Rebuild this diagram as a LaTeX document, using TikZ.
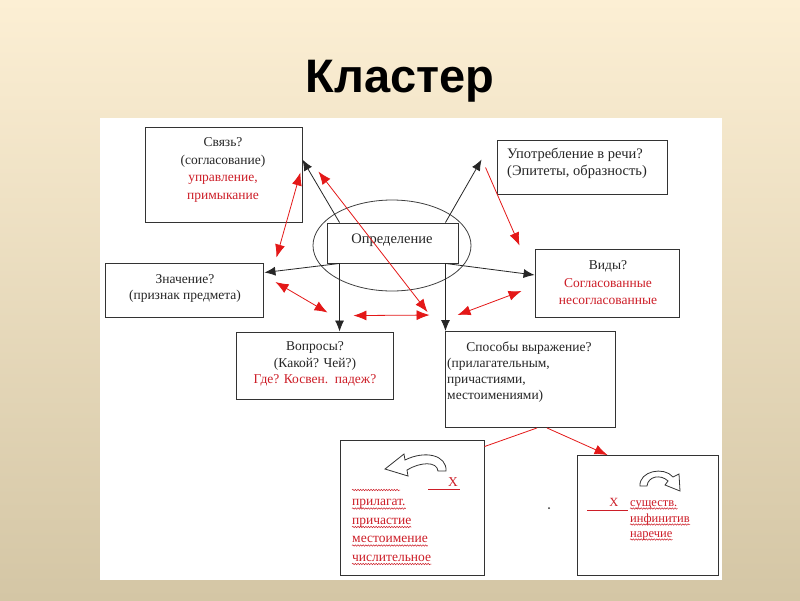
\documentclass[tikz,border=0pt]{standalone}
\usepackage{fontspec}
\setmainfont{Liberation Serif}
\newfontfamily\titlefont{Liberation Sans}
\usetikzlibrary{arrows.meta,calc,decorations.pathmorphing,shapes.geometric}
\definecolor{bgtop}{RGB}{252,239,212}
\definecolor{bgbot}{RGB}{212,198,165}
\definecolor{rtext}{RGB}{205,30,40}
\definecolor{rline}{RGB}{228,24,24}
\begin{document}
\begin{tikzpicture}[x=1pt,y=-1pt,
  box/.style n args={2}{draw=black!80, line width=0.9pt, minimum width=#1pt, minimum height=#2pt, inner sep=0pt},
  txt/.style={font=\fontsize{13.5}{17.5}\selectfont, inner sep=0pt, align=center, text=black!85},
  rword/.style={font=\fontsize{13.5}{16}\selectfont, inner sep=0pt, text=rtext},
  sword/.style={font=\fontsize{12.5}{15}\selectfont, inner sep=0pt, text=rtext},
  blk/.style={draw=black!85, line width=0.8pt, -{Latex[length=11pt,width=9pt]}},
  rdbl/.style={draw=rline, line width=0.8pt, {Latex[length=13pt,width=10pt]}-{Latex[length=13pt,width=10pt]}},
  rone/.style={draw=rline, line width=0.8pt, -{Latex[length=13pt,width=10pt]}},
  wavy/.style={draw=rtext, line width=0.5pt, decorate, decoration={snake, amplitude=0.7pt, segment length=2.6pt}},
  glyph/.style={draw=black!80, line width=0.8pt, fill=white}
]
\shade[top color=bgtop, bottom color=bgbot] (0,0) rectangle (800,600);
\useasboundingbox (0,0) rectangle (800,600);
\fill[white] (100,118) rectangle (722,580);

\node[font=\titlefont\bfseries\fontsize{47}{50}\selectfont, anchor=base, inner sep=0pt] (title) at (400,92) {Кластер};

% boxes
\node[ellipse, draw=black!75, line width=0.8pt, minimum width=158pt, minimum height=91pt, inner sep=0pt] (oval) at (392,245.5) {};
\node[box={157}{95}] (svyaz) at (223.5,174.5) {};
\node[box={170}{54}] (upotr) at (582,167) {};
\node[box={131}{40}, fill=white] (opr) at (392.5,243) {};
\node[box={158}{54}] (znach) at (184,290) {};
\node[box={144}{68}] (vidy) at (607,283) {};
\node[box={157}{67}] (vopr) at (314.5,365.5) {};
\node[box={170}{96}] (sposob) at (530,379.5) {};
\node[box={144}{135}] (lbox) at (412,507.5) {};
\node[box={141}{120}] (rbox) at (647.5,515.5) {};

% texts
\node[txt] (t1) at (223,170) {Связь?\\(согласование)\\\textcolor{rtext}{управление,}\\\textcolor{rtext}{примыкание}};
\node[txt, align=left, anchor=west, font=\fontsize{14.5}{17}\selectfont] (t2) at (507,163.5) {Употребление в речи?\\(Эпитеты, образность)};
\node[txt, font=\fontsize{14.5}{17}\selectfont] (t3) at (392,240) {Определение};
\node[txt, font=\fontsize{13.5}{16}\selectfont] (t4) at (185,288) {Значение?\\(признак предмета)};
\node[txt] (t5) at (608,283) {Виды?\\\textcolor{rtext}{Согласованные}\\\textcolor{rtext}{несогласованные}};
\node[txt, font=\fontsize{13.5}{16.5}\selectfont] (t6) at (315,364) {Вопросы?\\(Какой? Чей?)\\\textcolor{rtext}{Где? Косвен.\ \ падеж?}};
\node[txt] (t7) at (529,348) {Способы выражение?};
\node[txt, align=left, anchor=west, font=\fontsize{13.5}{16}\selectfont] (t8) at (447,380) {(прилагательным,\\причастиями,\\местоимениями)};

% connection points on the central box
\coordinate (oTL) at ($(opr.north west)+(13,0)$);
\coordinate (oTR) at ($(opr.north east)+(-13,0)$);
\coordinate (oBL) at ($(opr.south west)+(13,0)$);
\coordinate (oBR) at ($(opr.south east)+(-13,0)$);

% black arrows
\draw[blk] (oTL) -- ($(svyaz.north east)+(0,33)$);
\draw[blk] (oTR) -- ($(upotr.north west)+(-15,20)$);
\draw[blk] (oBL) -- ($(znach.north east)+(1,10)$);
\draw[blk] (oBL) -- (oBL |- vopr.north);
\draw[blk] (oBR) -- (oBR |- sposob.north);
\draw[blk] (oBR) -- ($(vidy.west)+(0,-8)$);

% red arrows
\draw[rdbl] ($(svyaz.south east)+(-2,-50)$) -- ($(znach.north east)+(13,-5)$);
\draw[rdbl] ($(svyaz.north east)+(16,45)$) -- ($(sposob.north west)+(-17,-19)$);
\draw[rone] ($(upotr.north west)+(-11,28)$) -- ($(vidy.north west)+(-15,-3)$);
\draw[rdbl] ($(znach.east)+(12,-8)$) -- ($(vopr.north west)+(92,-19)$);
\draw[rdbl] ($(vopr.north east)+(-40,-16)$) -- ($(sposob.north west)+(-15,-16)$);
\draw[rdbl] ($(vidy.west)+(-13,8)$) -- ($(sposob.north west)+(13,-16)$);
\draw[draw=rline, line width=0.8pt] ($(sposob.south)+(7,0)$) -- ($(lbox.north east)+(0,7)$);
\draw[rone] ($(sposob.south)+(17,0)$) -- ($(rbox.north west)+(31,0)$);

% left bottom box
\draw[glyph] (446,471) .. controls (447,455) and (425,450) .. (405,460) -- (404,454) -- (385,469) -- (408,476) -- (407,470) .. controls (420,462) and (437,461) .. (438,471) -- cycle;
\node[rword] (lx) at (453,482) {X};
\draw[rtext, line width=0.6pt] (428,489) -- (460,489);
\draw[wavy] (352,490) -- (400,490);
\node[rword, anchor=base west] (l1) at (352,505.5) {прилагат.};
\node[rword, anchor=base west] (l2) at (352,524) {причастие};
\node[rword, anchor=base west] (l3) at (352,542.5) {местоимение};
\node[rword, anchor=base west] (l4) at (352,561) {числительное};
\foreach \n in {l1,l2,l3,l4} {
  \draw[wavy] ($(\n.base west)+(0,3)$) -- ($(\n.base east)+(0,3)$);
}

% right bottom box
\draw[glyph] (640,486) .. controls (639,471) and (664,466) .. (673,477) -- (679,474) -- (680,491) -- (665,485) -- (668,481) .. controls (661,474) and (648,476) .. (647,486) -- cycle;
\node[sword] (rx) at (614,502) {X};
\draw[rtext, line width=0.6pt] (587,510) -- (628,510);
\node[sword, anchor=base west] (r1) at (630,506) {существ.};
\node[sword, anchor=base west] (r2) at (630,522) {инфинитив};
\node[sword, anchor=base west] (r3) at (630,537) {наречие};
\foreach \n in {r1,r2,r3} {
  \draw[wavy] ($(\n.base west)+(0,2.5)$) -- ($(\n.base east)+(0,2.5)$);
}

\fill[black!80] (549,508) circle (1pt);
\end{tikzpicture}
\end{document}
